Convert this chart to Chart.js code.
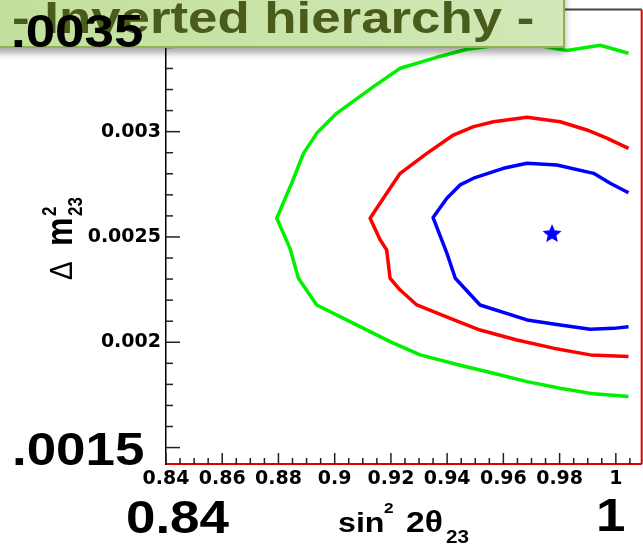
<!DOCTYPE html>
<html>
<head>
<meta charset="utf-8">
<script src="https://cdn.jsdelivr.net/npm/chart.js@4.4.0/dist/chart.umd.min.js"></script>
<style>
  html, body { margin: 0; padding: 0; background: #fff; }
  #wrap { position: relative; width: 643px; height: 547px; overflow: hidden; background: #fff; }
  #plot { position: absolute; left: 0; top: 0; }
  .banner {
    position: absolute; left: -12px; top: -24px; width: 573px; height: 68px;
    background: linear-gradient(to right, #c2df9b, #d2e8b8);
    border: 2px solid #8fb352;
    box-shadow: 0 5px 7px rgba(0, 0, 0, 0.35);
  }
  .bannerText {
    position: absolute; left: 12px; top: -4px;
    font: bold 44px/44px 'Liberation Sans', Arial, sans-serif;
    color: #4a5c1b; white-space: nowrap;
    transform: scaleX(1.2); transform-origin: 0 0;
  }
  .big {
    position: absolute;
    font: bold 46px/46px 'Liberation Sans', Arial, sans-serif;
    color: #000; white-space: nowrap;
    transform: scaleX(1.15); transform-origin: 0 0;
  }
</style>
</head>
<body>
<div id="wrap">
  <canvas id="plot" width="643" height="547"></canvas>
  <div class="banner"></div>
  <div class="bannerText">- Inverted hierarchy -</div>
  <div class="big" style="left:11px; top:8px;">.0035</div>
  <div class="big" style="left:12px; top:426px;">.0015</div>
  <div class="big" style="left:126px; top:494px;">0.84</div>
  <div class="big" style="left:596px; top:492px;">1</div>
</div>
<script>
// Axis tick values and their printed labels
const xTickValues = [0.84, 0.86, 0.88, 0.9, 0.92, 0.94, 0.96, 0.98, 1];
const xTickLabels = ['0.84', '0.86', '0.88', '0.9', '0.92', '0.94', '0.96', '0.98', '1'];
const yTickValues = [0.002, 0.0025, 0.003];
const yTickLabels = ['0.002', '0.0025', '0.003'];

// Outer contour (green): sin^2 2θ23 and Δm^2_23 along the curve
const outerSin2 = [1.0045, 0.9944, 0.9826, 0.966, 0.947, 0.9363, 0.9233, 0.9138, 0.9007, 0.8936, 0.8889, 0.8847, 0.8794,
                   0.8841, 0.8871, 0.8936, 0.9067, 0.9197, 0.9304, 0.9446, 0.9565, 0.9684, 0.9802, 0.9921, 1.0045];
const outerDm2  = [0.003372, 0.00341, 0.003385, 0.003425, 0.003391, 0.003353, 0.003301, 0.003214, 0.003087, 0.002992, 0.002897, 0.002755, 0.002589,
                   0.002446, 0.002304, 0.002177, 0.00209, 0.002003, 0.00194, 0.001891, 0.001853, 0.001813, 0.001782, 0.001755, 0.001742];

// Middle contour (red)
const middleSin2 = [1.0045, 0.9968, 0.9897, 0.9802, 0.9684, 0.9565, 0.9494, 0.9422, 0.9328, 0.9233, 0.9185, 0.9126,
                    0.9162, 0.9185, 0.9197, 0.9233, 0.9292, 0.9411, 0.9517, 0.9648, 0.9778, 0.9909, 1.0045];
const middleDm2  = [0.002921, 0.002969, 0.003008, 0.003047, 0.003068, 0.003047, 0.003024, 0.002984, 0.002897, 0.002802, 0.002708, 0.002589,
                    0.002486, 0.002438, 0.002304, 0.002248, 0.002177, 0.002114, 0.002058, 0.002011, 0.001972, 0.00194, 0.001932];

// Inner contour (blue)
const innerSin2 = [1.0045, 0.998, 0.9921, 0.979, 0.9684, 0.96, 0.9494, 0.9446, 0.9399, 0.935,
                   0.9399, 0.9429, 0.9517, 0.9684, 0.9802, 0.9909, 0.9992, 1.0045];
const innerDm2  = [0.00271, 0.002755, 0.002802, 0.002842, 0.00285, 0.002826, 0.002779, 0.002747, 0.002684, 0.002592,
                   0.002423, 0.002304, 0.002177, 0.002106, 0.002082, 0.002062, 0.002066, 0.002074];

// Best-fit point
const bestSin2 = [0.9773];
const bestDm2  = [0.002514];

const toPoints = (xs, ys) => xs.map((x, i) => ({ x: x, y: ys[i] }));

// Filled five-pointed star used as the best-fit marker
function starImage(size, color) {
  const c = document.createElement('canvas');
  c.width = c.height = size;
  const g = c.getContext('2d');
  const R = size / 2, r = R * 0.45;
  g.fillStyle = color;
  g.beginPath();
  for (let i = 0; i < 10; i++) {
    const ang = -Math.PI / 2 + i * Math.PI / 5;
    const rr = i % 2 ? r : R;
    g.lineTo(R + rr * Math.cos(ang), R + rr * Math.sin(ang));
  }
  g.closePath();
  g.fill();
  return c;
}

const SANS = "'Liberation Sans', Arial, sans-serif";

// Frame edges, inward tick marks and the axis titles
const frameAndTitles = {
  id: 'frameAndTitles',
  afterDraw(chart) {
    const ctx = chart.ctx;
    const a = chart.chartArea;
    const xs = chart.scales.x, ys = chart.scales.y;
    ctx.save();

    ctx.lineWidth = 2;
    ctx.strokeStyle = '#444';
    ctx.beginPath(); ctx.moveTo(a.left, a.top); ctx.lineTo(a.right, a.top); ctx.stroke();
    ctx.strokeStyle = '#e00000';
    ctx.beginPath(); ctx.moveTo(a.right, a.top); ctx.lineTo(a.right, a.bottom); ctx.stroke();

    ctx.strokeStyle = '#222';
    ctx.lineWidth = 1.5;
    for (let k = 14; k <= 36; k++) {
      const py = ys.getPixelForValue(k / 10000);
      if (py < a.top + 1 || py > a.bottom - 1) continue;
      const len = k % 5 === 0 ? 14 : 7;
      ctx.beginPath(); ctx.moveTo(a.left, py); ctx.lineTo(a.left + len, py); ctx.stroke();
    }
    for (let k = 168; k <= 202; k++) {
      const px = xs.getPixelForValue(k / 200);
      if (px > a.right - 1) continue;
      const len = k % 4 === 0 ? 11 : 6;
      ctx.beginPath(); ctx.moveTo(px, a.bottom); ctx.lineTo(px, a.bottom - len); ctx.stroke();
    }

    ctx.fillStyle = '#000';
    ctx.textBaseline = 'alphabetic';
    ctx.textAlign = 'left';
    const piece = (txt, x, y, font, sx) => {
      ctx.save();
      ctx.translate(x, y);
      ctx.scale(sx, 1);
      ctx.font = font;
      ctx.fillText(txt, 0, 0);
      ctx.restore();
    };

    // x title: sin^2 2θ_23
    piece('sin', 338, 532, 'bold 28px ' + SANS, 1.15);
    piece('2', 384, 513, 'bold 15px ' + SANS, 1.15);
    piece('2θ', 406, 532, 'bold 30px ' + SANS, 1.12);
    piece('23', 446, 543, 'bold 18px ' + SANS, 1.15);

    // y title: Δ m^2_23, reading upward
    ctx.save();
    ctx.translate(72, 237);
    ctx.rotate(-Math.PI / 2);
    ctx.scale(1, 1.15);
    ctx.font = '28px ' + SANS;
    ctx.fillText('Δ', -43, 0);
    ctx.font = 'bold 32px ' + SANS;
    ctx.fillText('m', -9, 0);
    ctx.font = 'bold 17px ' + SANS;
    ctx.fillText('2', 21, -14);
    ctx.fillText('23', 21, 9);
    ctx.restore();

    ctx.restore();
  }
};

const tickFont = { family: "'DejaVu Sans'", weight: 'bold', size: 19 };

new Chart(document.getElementById('plot'), {
  type: 'scatter',
  data: {
    datasets: [
      { data: toPoints(outerSin2, outerDm2), showLine: true, borderColor: '#00f000', borderWidth: 3.5, pointRadius: 0, borderJoinStyle: 'round', fill: false },
      { data: toPoints(middleSin2, middleDm2), showLine: true, borderColor: '#ff0000', borderWidth: 3.5, pointRadius: 0, borderJoinStyle: 'round', fill: false },
      { data: toPoints(innerSin2, innerDm2), showLine: true, borderColor: '#0000ff', borderWidth: 3.5, pointRadius: 0, borderJoinStyle: 'round', fill: false },
      { data: toPoints(bestSin2, bestDm2), showLine: false, pointStyle: starImage(20, '#0000ff'), pointRadius: 10 }
    ]
  },
  options: {
    responsive: false,
    animation: false,
    devicePixelRatio: 1,
    layout: { autoPadding: false, padding: { top: 9.5, right: 1.3, left: 0, bottom: 0 } },
    plugins: { legend: { display: false }, tooltip: { enabled: false } },
    scales: {
      x: {
        type: 'linear', min: 0.84, max: 1.0092,
        afterFit(s) { s.height = 83; s.paddingLeft = 0; s.paddingRight = 0; },
        afterBuildTicks(s) { s.ticks = xTickValues.map(v => ({ value: v })); },
        ticks: { callback: (v, i) => xTickLabels[i], font: tickFont, color: '#000', padding: 4, maxRotation: 0, autoSkip: false },
        grid: { display: false, drawTicks: false },
        border: { color: '#e00000', width: 2 }
      },
      y: {
        type: 'linear', min: 0.001422, max: 0.00358,
        afterFit(s) { s.width = 166; s.paddingTop = 0; s.paddingBottom = 0; },
        afterBuildTicks(s) { s.ticks = yTickValues.map(v => ({ value: v })); },
        ticks: { callback: (v, i) => yTickLabels[i], font: tickFont, color: '#000', padding: 5, autoSkip: false },
        grid: { display: false, drawTicks: false },
        border: { color: '#000', width: 1.5 }
      }
    }
  },
  plugins: [frameAndTitles]
});
</script>
</body>
</html>
